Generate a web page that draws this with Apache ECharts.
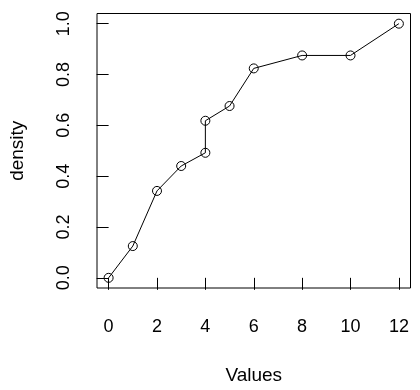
<!DOCTYPE html>
<html><head><meta charset="utf-8">
<script src="https://cdn.jsdelivr.net/npm/echarts@6/dist/echarts.min.js"></script>
<style>html,body{margin:0;padding:0;background:#fff}#c{width:420px;height:390px}</style>
</head><body><div id="c"></div>
<script>
const xValues = [0, 1, 2, 3, 4, 4, 5, 6, 8, 10, 12];
const yValues = [0, 0.125, 0.342, 0.44, 0.492, 0.618, 0.676, 0.824, 0.875, 0.875, 1.0];
const xTicks = [0, 2, 4, 6, 8, 10, 12];
const yTicks = [0, 0.2, 0.4, 0.6, 0.8, 1.0];
const xTitle = 'Values';
const yTitle = 'density';

const font = 'Liberation Sans, Arial, sans-serif';
const chart = echarts.init(document.getElementById('c'));
chart.setOption({
  animation: false,
  backgroundColor: '#fff',
  grid: {left: 94.5, top: 13.5, width: 316, height: 276, show: true, borderColor: '#000', borderWidth: 1, backgroundColor: 'transparent'},
  xAxis: {
    type: 'value', min: -0.48, max: 12.48,
    splitLine: {show: false},
    axisLine: {show: false},
    axisTick: {show: true, length: 12, inside: false, customValues: xTicks, lineStyle: {color: '#000', width: 1}},
    axisLabel: {customValues: xTicks, margin: 30, fontSize: 18, color: '#000', fontFamily: font},
    name: xTitle, nameLocation: 'middle', nameGap: 78,
    nameTextStyle: {fontSize: 19, color: '#000', fontFamily: font}
  },
  yAxis: {
    type: 'value', min: -0.04, max: 1.04,
    splitLine: {show: false},
    axisLine: {show: false},
    axisTick: {show: true, length: 12, inside: false, customValues: yTicks, lineStyle: {color: '#000', width: 1}},
    axisLabel: {customValues: yTicks, margin: 24, rotate: 90, fontSize: 18, color: '#000', fontFamily: font,
      formatter: v => v.toFixed(1)},
    name: yTitle, nameLocation: 'middle', nameGap: 70, nameRotate: 90,
    nameTextStyle: {fontSize: 19, color: '#000', fontFamily: font}
  },
  series: [{
    type: 'line',
    data: xValues.map((x, i) => [x, yValues[i]]),
    symbol: 'circle', symbolSize: 9,
    lineStyle: {color: '#000', width: 1},
    itemStyle: {color: 'rgba(0,0,0,0)', borderColor: '#000', borderWidth: 1},
    emphasis: {disabled: true},
    z: 3
  }]
});
</script></body></html>
